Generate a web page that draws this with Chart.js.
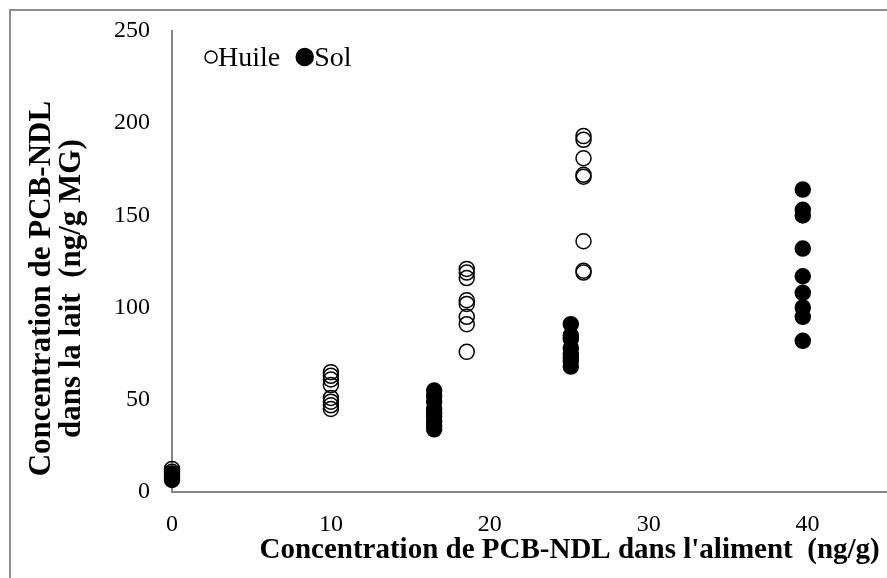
<!DOCTYPE html>
<html>
<head>
<meta charset="utf-8">
<script src="https://cdn.jsdelivr.net/npm/chart.js@4/dist/chart.umd.min.js"></script>
<style>
    body { margin: 0; background: #fff; overflow: hidden; }
    #frame { position: absolute; left: 9px; top: 9px; width: 1000px; height: 1000px; border: 2px solid #8f8f8f; }
    #pcbChart { position: absolute; left: 0; top: 0; }
</style>
</head>
<body>
<div id="frame"></div>
<!-- wider than the window: the plot runs off the right edge like the original -->
<canvas id="pcbChart" width="896" height="578"></canvas>
<script>
// doses (ng/g) and milk concentrations (ng/g MG)
const doseHuile = [0, 10, 18.55, 25.9];
const doseSol = [0, 16.5, 25.1, 39.7];

const huile0 = [12.5, 11, 9];
const huile10 = [65, 63, 61, 58, 51, 49, 47, 45];
const huile19 = [121, 119, 116, 104, 102, 95, 91, 76];
const huile26 = [193, 191, 181, 172, 171, 136, 120, 119];

const sol0 = [10, 8, 6.5];
const sol17 = [55, 52, 49, 45, 43, 41, 38, 36, 34];
const sol25 = [91, 85, 83, 78, 75, 73, 71, 68];
const sol40 = [164, 153, 150, 132, 117, 108, 100, 95, 82];

const xTicks = [0, 10, 20, 30, 40];
const yTicks = [0, 50, 100, 150, 200, 250];

const serif = '"Liberation Serif", "Times New Roman", serif';

function toPoints(doses, groups) {
    const pts = [];
    groups.forEach((vals, i) => vals.forEach(v => pts.push({ x: doses[i], y: v })));
    return pts;
}

// legend drawn inside the plot area, top left
const legendRadius = [6, 8.5];
const inlineLegend = {
    id: 'inlineLegend',
    afterDraw(chart) {
        const ctx = chart.ctx;
        const y = 66;
        let x = chart.chartArea.left + 33;
        ctx.save();
        ctx.font = '28px ' + serif;
        ctx.textBaseline = 'alphabetic';
        chart.data.datasets.forEach((ds, i) => {
            const r = legendRadius[i];
            ctx.beginPath();
            ctx.arc(x + r, y - 9, r, 0, Math.PI * 2);
            ctx.fillStyle = ds.backgroundColor;
            ctx.fill();
            ctx.lineWidth = 1.5;
            ctx.strokeStyle = ds.borderColor;
            ctx.stroke();
            ctx.fillStyle = '#000';
            ctx.fillText(ds.label, x + 2 * r + 1, y);
            x += 2 * r + 1 + ctx.measureText(ds.label).width + 16;
        });
        ctx.restore();
    }
};

const ctx = document.getElementById('pcbChart').getContext('2d');
new Chart(ctx, {
    type: 'scatter',
    data: {
        datasets: [{
            label: 'Huile',
            data: toPoints(doseHuile, [huile0, huile10, huile19, huile26]),
            backgroundColor: 'rgba(255,255,255,0)',
            borderColor: '#000',
            borderWidth: 1.5,
            pointRadius: 7.5,
            pointHoverRadius: 7.5,
            clip: false,
            order: 1
        }, {
            label: 'Sol',
            data: toPoints(doseSol, [sol0, sol17, sol25, sol40]),
            backgroundColor: '#000',
            borderColor: '#000',
            borderWidth: 1.5,
            pointRadius: 7.5,
            pointHoverRadius: 7.5,
            clip: false,
            order: 0
        }]
    },
    options: {
        responsive: false,
        animation: false,
        layout: { padding: { top: 31, right: 1, left: 0, bottom: 0 } },
        plugins: { legend: { display: false }, tooltip: { enabled: false } },
        scales: {
            x: {
                type: 'linear',
                min: 0,
                max: 45,
                afterBuildTicks: s => { s.ticks = xTicks.map(v => ({ value: v })); },
                afterFit: s => { s.height = 86; s.paddingLeft = 0; s.paddingRight = 0; },
                grid: { display: false, drawTicks: false },
                border: { display: true, color: '#868686', width: 2 },
                ticks: { padding: 18, color: '#000', font: { family: serif, size: 24 } },
                title: {
                    display: true,
                    text: "Concentration de PCB-NDL dans l'aliment  (ng/g) ",
                    align: 'end',
                    color: '#000',
                    font: { family: serif, size: 29, weight: 'bold' },
                    padding: { top: 0, bottom: 10 }
                }
            },
            y: {
                min: 0,
                max: 250,
                afterBuildTicks: s => { s.ticks = yTicks.map(v => ({ value: v })); },
                afterFit: s => { s.width = 172; s.paddingTop = 0; s.paddingBottom = 0; },
                grid: { display: false, drawTicks: false },
                border: { display: true, color: '#868686', width: 2 },
                ticks: { padding: 22, color: '#000', font: { family: serif, size: 24 } },
                title: {
                    display: true,
                    text: ['Concentration de PCB-NDL       ', 'dans la lait  (ng/g MG)       '],
                    color: '#000',
                    font: { family: serif, size: 31, weight: 'bold', lineHeight: 0.97 },
                    padding: { top: 27, bottom: 0 }
                }
            }
        }
    },
    plugins: [inlineLegend]
});
</script>
</body>
</html>
